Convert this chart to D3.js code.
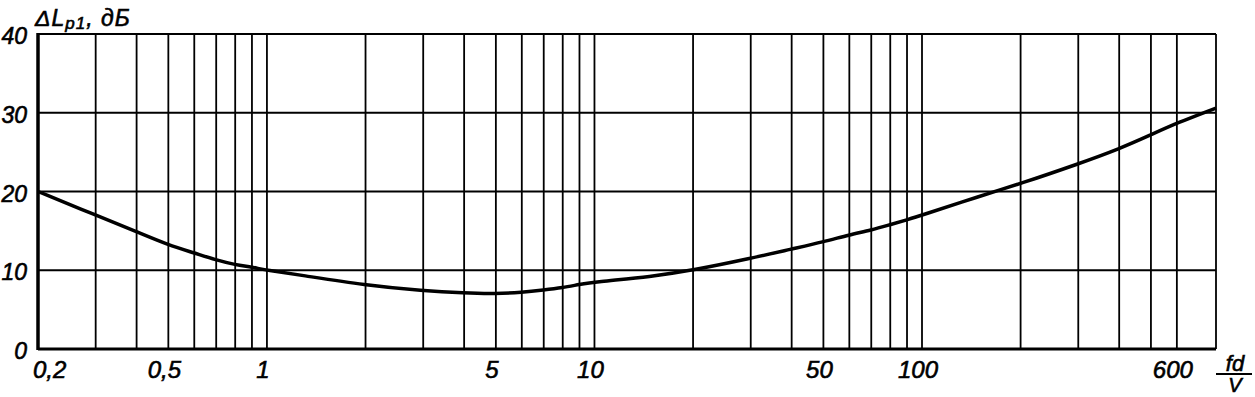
<!DOCTYPE html>
<html>
<head>
<meta charset="utf-8">
<script src="https://cdn.jsdelivr.net/npm/d3@7"></script>
<style>
  body { margin: 0; background: #fff; }
  text { font-family: "Liberation Sans", Arial, sans-serif; font-style: italic; fill: #000; stroke: #000; stroke-width: 0.6; }
</style>
</head>
<body>
<script>
// curve: fd/V (log) vs delta L, dB
const fdV = [0.2, 0.3, 0.4, 0.5, 0.6, 0.7, 0.8, 0.9, 1, 1.26, 2, 3, 4, 5, 6, 7, 8, 9, 10,
             15, 20, 30, 40, 50, 60, 70, 80, 90, 100, 150, 200, 300, 400, 500, 600, 790];
const deltaL = [20, 17.0, 14.9, 13.2, 12.2, 11.3, 10.7, 10.4, 10.0, 9.4, 8.1, 7.4, 7.1, 7.0, 7.2, 7.5, 7.8, 8.2, 8.5,
                9.2, 10.0, 11.5, 12.7, 13.6, 14.5, 15.1, 15.8, 16.4, 17.0, 19.4, 21.0, 23.5, 25.4, 27.2, 28.7, 30.6];

// grid and tick labels
const gridX = [0.3, 0.4, 0.5, 0.6, 0.7, 0.8, 0.9, 1, 2, 3, 4, 5, 6, 7, 8, 9, 10,
               20, 30, 40, 50, 60, 70, 80, 90, 100, 200, 300, 400, 500, 600, 790];
const xTicks = [0.2, 0.5, 1, 5, 10, 50, 100, 600];
const xTickLabels = ["0,2", "0,5", "1", "5", "10", "50", "100", "600"];
const yTicks = [0, 10, 20, 30, 40];

const width = 1255;
const height = 397;

const x = d3.scaleLog().domain([0.2, 790]).range([38, 1216]);
const y = d3.scaleLinear().domain([0, 40]).range([349, 34]);

const svg = d3.select("body").append("svg")
    .attr("width", width)
    .attr("height", height)
    .style("background", "#fff");

// vertical grid lines
svg.append("g").selectAll("line")
    .data(gridX)
    .join("line")
    .attr("x1", d => x(d)).attr("x2", d => x(d))
    .attr("y1", y(40)).attr("y2", y(0))
    .attr("stroke", "#000").attr("stroke-width", 1.8);

// horizontal grid lines
svg.append("g").selectAll("line")
    .data(yTicks.filter(d => d > 0))
    .join("line")
    .attr("x1", x(0.2)).attr("x2", x(790))
    .attr("y1", d => y(d)).attr("y2", d => y(d))
    .attr("stroke", "#000").attr("stroke-width", 1.8);

// axes (heavier)
svg.append("line")
    .attr("x1", x(0.2)).attr("x2", x(790))
    .attr("y1", y(0)).attr("y2", y(0))
    .attr("stroke", "#000").attr("stroke-width", 3);
svg.append("line")
    .attr("x1", x(0.2)).attr("x2", x(0.2))
    .attr("y1", y(40) - 1).attr("y2", y(0) + 1)
    .attr("stroke", "#000").attr("stroke-width", 3.5);

// the curve
const line = d3.line()
    .x((d, i) => x(fdV[i]))
    .y(d => y(d))
    .curve(d3.curveBasis);

svg.append("path")
    .datum(deltaL)
    .attr("fill", "none")
    .attr("stroke", "#000")
    .attr("stroke-width", 3.5)
    .attr("stroke-linejoin", "round")
    .attr("d", line);

// y tick labels
svg.append("g").selectAll("text")
    .data(yTicks)
    .join("text")
    .attr("x", 27)
    .attr("y", d => y(d) + 10)
    .attr("text-anchor", "end")
    .attr("font-size", 23)
    .text(d => d);

// x tick labels
svg.append("g").selectAll("text")
    .data(xTicks)
    .join("text")
    .attr("x", (d, i) => i === 0 ? 33 : x(d) - 4)
    .attr("y", 378)
    .attr("text-anchor", (d, i) => i === 0 ? "start" : "middle")
    .attr("font-size", 24)
    .text((d, i) => xTickLabels[i]);

// y axis title
const title = svg.append("text")
    .attr("x", 35)
    .attr("y", 26)
    .attr("font-size", 23)
    .attr("letter-spacing", 1);
title.append("tspan").text("ΔL");
title.append("tspan").attr("font-size", 17).attr("dy", 3).text("р1");
title.append("tspan").attr("dy", -3).text(", дБ");

// x axis title fd/V
svg.append("text")
    .attr("x", 1235).attr("y", 371)
    .attr("text-anchor", "middle")
    .attr("font-size", 22)
    .text("fd");
svg.append("line")
    .attr("x1", 1216).attr("x2", 1252)
    .attr("y1", 374).attr("y2", 374)
    .attr("stroke", "#000").attr("stroke-width", 1.8);
svg.append("text")
    .attr("x", 1235).attr("y", 392)
    .attr("text-anchor", "middle")
    .attr("font-size", 20)
    .text("V");
</script>
</body>
</html>
